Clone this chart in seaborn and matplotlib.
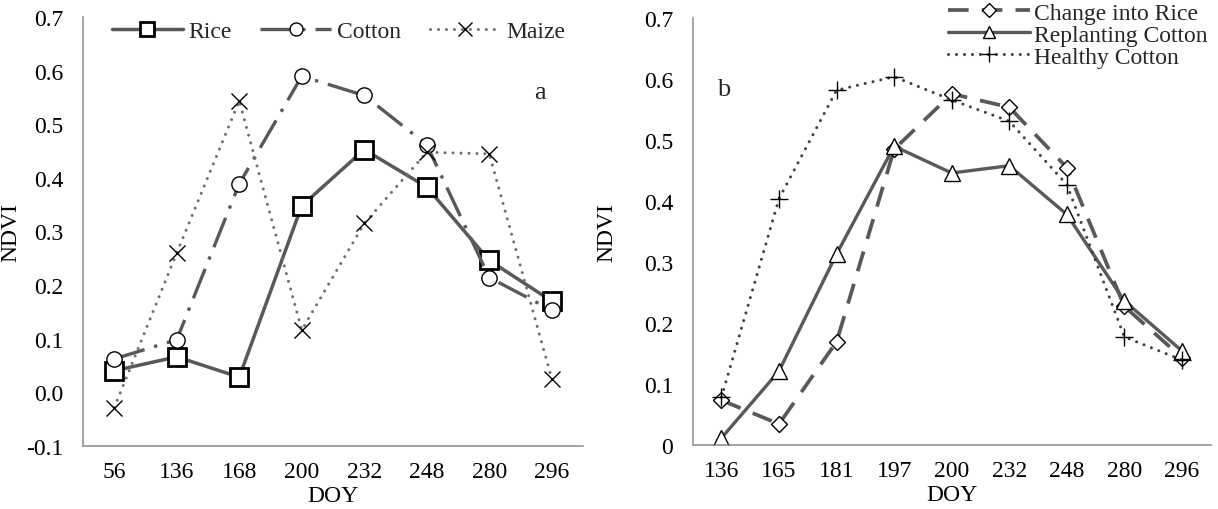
import matplotlib
matplotlib.use("Agg")
import matplotlib.pyplot as plt
import seaborn as sns
import numpy as np
import pandas as pd
from matplotlib.ticker import FixedLocator, FixedFormatter, NullFormatter

# ---- data ----
doy_a = ["56", "136", "168", "200", "232", "248", "280", "296"]
rice = [0.040, 0.066, 0.028, 0.348, 0.453, 0.383, 0.246, 0.170]
cotton = [0.062, 0.098, 0.389, 0.590, 0.554, 0.462, 0.214, 0.153]
maize = [-0.029, 0.260, 0.544, 0.116, 0.315, 0.448, 0.445, 0.025]

doy_b = ["136", "165", "181", "197", "200", "232", "248", "280", "296"]
change_rice = [0.073, 0.034, 0.169, 0.485, 0.576, 0.554, 0.455, 0.227, 0.143]
replant_cotton = [0.011, 0.121, 0.313, 0.490, 0.446, 0.458, 0.378, 0.236, 0.154]
healthy_cotton = [0.078, 0.404, 0.582, 0.604, 0.566, 0.531, 0.427, 0.177, 0.139]

yt_a = [-0.1, 0.0, 0.1, 0.2, 0.3, 0.4, 0.5, 0.6, 0.7]
yl_a = ["-0.1", "0.0", "0.1", "0.2", "0.3", "0.4", "0.5", "0.6", "0.7"]
yt_b = [0.0, 0.1, 0.2, 0.3, 0.4, 0.5, 0.6, 0.7]
yl_b = ["0", "0.1", "0.2", "0.3", "0.4", "0.5", "0.6", "0.7"]

sns.set_theme(style="white")
plt.rcParams['font.family'] = ['Liberation Serif', 'DejaVu Serif']
FS = 17

W, H = 1218, 510
fig = plt.figure(figsize=(W / 100, H / 100), dpi=100)

def px_axes(x0, x1, ytop, ybot):
    return fig.add_axes([x0 / W, 1 - ybot / H, (x1 - x0) / W, (ybot - ytop) / H])

axA = px_axes(83, 583, 18.3, 446.7)
axB = px_axes(692.7, 1210.7, 19.3, 445.7)

LC = "#595959"
common = dict(markerfacecolor="white", markeredgecolor="black", sort=False)

# ---- panel a ----
sns.lineplot(x=doy_a, y=rice, ax=axA, color=LC, lw=2.5, marker="s", markersize=12.5,
             markeredgewidth=2.0, label="Rice", **common)
sns.lineplot(x=doy_a, y=cotton, ax=axA, color=LC, lw=2.4, marker="o", markersize=11,
             markeredgewidth=1.0, linestyle=(0, (9.5, 3, 1, 3)), label="Cotton", **common)
sns.lineplot(x=doy_a, y=maize, ax=axA, color="#707070", lw=2.2, marker="x", markersize=12,
             markeredgewidth=1.0, linestyle=(0, (0.01, 2.6)), dash_capstyle="round",
             label="Maize", **common)

# ---- panel b ----
sns.lineplot(x=doy_b, y=change_rice, ax=axB, color=LC, lw=2.7, marker="D", markersize=8,
             markeredgewidth=1.0, linestyle=(0, (5.5, 3.5)), label="Change into Rice", **common)
sns.lineplot(x=doy_b, y=replant_cotton, ax=axB, color=LC, lw=2.4, marker="^", markersize=11,
             markeredgewidth=1.0, label="Replanting Cotton", **common)
sns.lineplot(x=doy_b, y=healthy_cotton, ax=axB, color="#404040", lw=2.2, marker="+", markersize=13,
             markeredgewidth=1.0, linestyle=(0, (0.01, 2.6)), dash_capstyle="round",
             label="Healthy Cotton", **common)

spine_c = "#8c8c8c"
for ax, cats, yt, yl, ylim, ylx in [(axA, doy_a, yt_a, yl_a, (-0.1, 0.7), -0.124),
                                    (axB, doy_b, yt_b, yl_b, (0.0, 0.7), -0.146)]:
    n = len(cats)
    ax.set_xlim(-0.5, n - 0.5)
    ax.set_ylim(*ylim)
    ax.xaxis.set_major_locator(FixedLocator(np.arange(n)))
    ax.xaxis.set_major_formatter(FixedFormatter(cats))
    ax.xaxis.set_minor_locator(FixedLocator(np.arange(n + 1) - 0.5))
    ax.xaxis.set_minor_formatter(NullFormatter())
    ax.tick_params(axis="x", which="major", length=0, pad=11, labelsize=FS, labelcolor="black")
    ax.tick_params(axis="x", which="minor", length=6, width=1, color=spine_c, direction="out")
    ax.set_yticks(yt)
    ax.set_yticklabels(yl)
    ax.tick_params(axis="y", which="major", length=5, width=1, color=spine_c, direction="out",
                   labelsize=FS, labelcolor="black", pad=9)
    for s in ["top", "right"]:
        ax.spines[s].set_visible(False)
    for s in ["left", "bottom"]:
        ax.spines[s].set_color(spine_c)
        ax.spines[s].set_linewidth(1.1)
    ax.set_xlabel("DOY", fontsize=FS, color="black", labelpad=2)
    ax.set_ylabel("NDVI", fontsize=FS, color="black")
    ax.yaxis.set_label_coords(ylx, 0.5)
    ax.grid(False)

axA.legend(loc="center left", bbox_to_anchor=(0.058, 0.968), ncol=3, frameon=False,
           fontsize=FS, handlelength=3.0, handletextpad=0.25, columnspacing=1.2,
           borderaxespad=0, borderpad=0, markerscale=0.85)
axB.legend(loc="center left", bbox_to_anchor=(0.493, 0.961), ncol=1, frameon=False,
           fontsize=FS, handlelength=3.45, handletextpad=0.2, labelspacing=0.02,
           borderaxespad=0, borderpad=0, markerscale=0.85)

fig.text(540 / W, 1 - 93 / H, "a", fontsize=19, ha="center", va="center")
fig.text(724 / W, 1 - 90 / H, "b", fontsize=19, ha="center", va="center")

fig.savefig("out.png", dpi=100)
